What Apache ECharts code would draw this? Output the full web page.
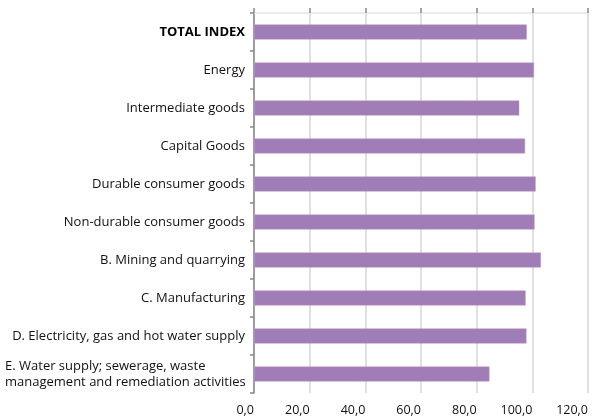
<!DOCTYPE html>
<html><head><meta charset="utf-8">
<script src="https://cdn.jsdelivr.net/npm/echarts@6/dist/echarts.min.js"></script>
<style>html,body{margin:0;padding:0;background:#fff}#c{width:594px;height:416px}</style>
</head><body><div id="c"></div>
<script>
const categories = [
  "TOTAL INDEX",
  "Energy",
  "Intermediate goods",
  "Capital Goods",
  "Durable consumer goods",
  "Non-durable consumer goods",
  "B. Mining and quarrying",
  "C. Manufacturing",
  "D. Electricity, gas and hot water supply",
  "E. Water supply; sewerage, waste management and remediation activities"
];
const values = [98.0, 100.6, 95.3, 97.4, 101.2, 100.8, 103.1, 97.6, 97.9, 84.6];
const xTicks = [0, 20, 40, 60, 80, 100, 120];

const chart = echarts.init(document.getElementById('c'));
const FONT = 'Open Sans';
chart.setOption({
  animation: false,
  grid: {left: 254, right: 6, top: 13, bottom: 23, containLabel: false, outerBoundsMode: 'none'},
  xAxis: [{
    type: 'value', min: xTicks[0], max: xTicks[xTicks.length-1], interval: xTicks[1]-xTicks[0],
    position: 'bottom',
    axisLine: {show: false}, axisTick: {show: false},
    axisLabel: {color: '#111', fontFamily: FONT, fontSize: 12.5, margin: 11, align: 'right',
      hideOverlap: false, showMaxLabel: true, showMinLabel: true,
      formatter: v => v.toFixed(1).replace('.', ',')},
    splitLine: {show: true, lineStyle: {color: '#d6d6d6', width: 1.5}}
  }, {
    type: 'value', min: xTicks[0], max: xTicks[xTicks.length-1], interval: xTicks[1]-xTicks[0],
    position: 'top',
    axisLine: {show: true, lineStyle: {color: '#e6e6e6', width: 1.5}},
    axisTick: {show: true, length: 5, lineStyle: {color: '#888', width: 1.5}},
    axisLabel: {show: false}, splitLine: {show: false}
  }],
  yAxis: {
    type: 'category', data: categories, inverse: true,
    axisLine: {show: true, lineStyle: {color: '#888', width: 1.5}},
    axisTick: {show: true, length: 4, lineStyle: {color: '#888', width: 1.5}},
    axisLabel: {
      color: '#111', fontFamily: FONT, fontSize: 13, margin: 9, lineHeight: 16,
      formatter: function (v) {
        if (v === 'TOTAL INDEX') return '{b|' + v + '}';
        if (v.indexOf('E. Water') === 0) return '{w|E. Water supply; sewerage, waste}\n{w|management and remediation activities}';
        return v;
      },
      rich: {
        b: {fontWeight: 'bold', fontFamily: FONT, fontSize: 13, color: '#000'},
        w: {fontFamily: FONT, fontSize: 13, color: '#111', width: 240, align: 'left', lineHeight: 16}
      }
    }
  },
  series: [{
    type: 'bar', xAxisIndex: 0, data: values, barWidth: 15,
    itemStyle: {color: '#a07db6', borderColor: '#b99bcb', borderWidth: 0.5}
  }]
});
</script></body></html>
